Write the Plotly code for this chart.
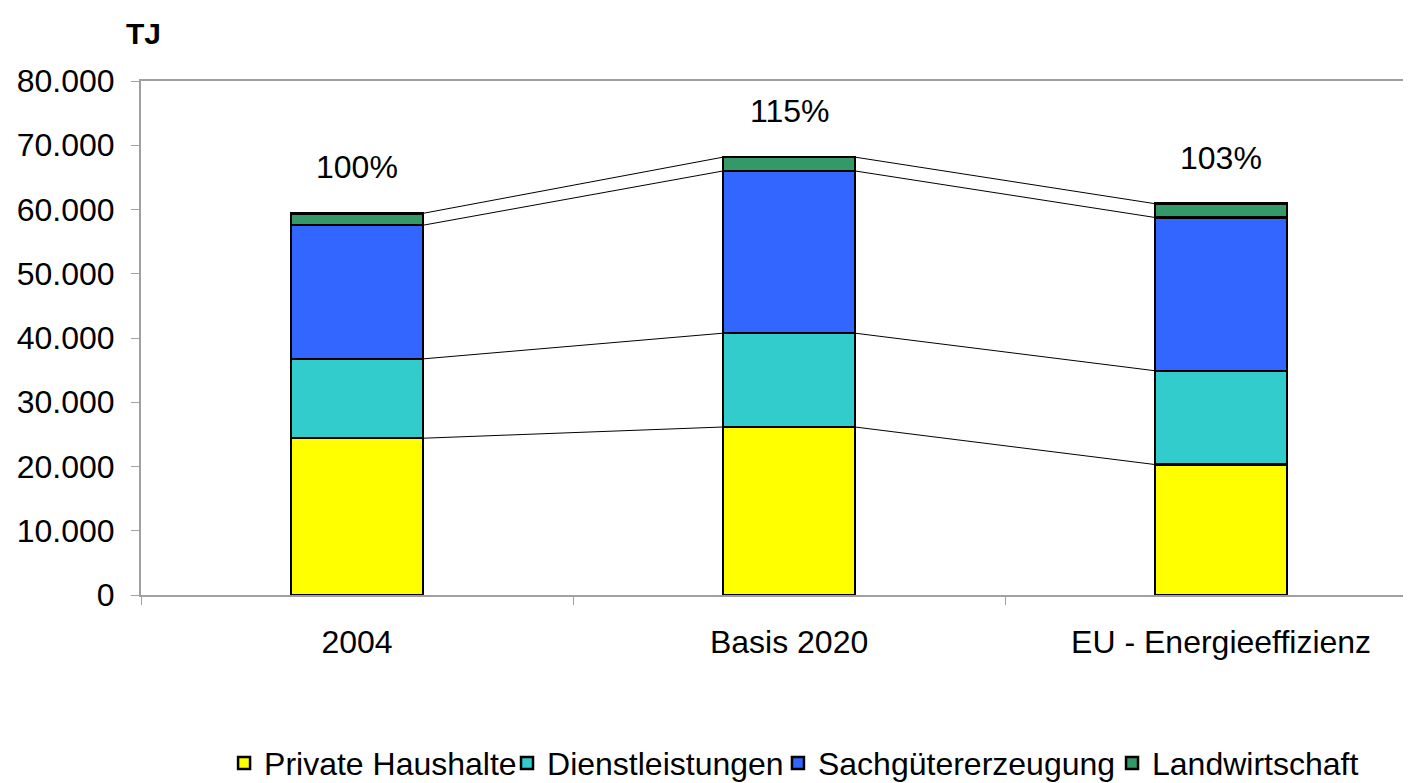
import numpy as np
import plotly.graph_objects as go

# Data (TJ)
categories = ["2004", "Basis 2020", "EU - Energieeffizienz"]
series_names = ["Private Haushalte", "Dienstleistungen", "Sachgütererzeugung", "Landwirtschaft"]
private_haushalte = [24400, 26150, 20300]
dienstleistungen = [12350, 14600, 14600]
sachgueter = [20800, 25250, 23850]
landwirtschaft = [1850, 2150, 2150]
pct_labels = ["100%", "115%", "103%"]

colors = ["#FFFF00", "#33CCCC", "#3366FF", "#339966"]
bar_w = 0.305
font = "Liberation Sans, Arial, sans-serif"
fs = 32

values = [private_haushalte, dienstleistungen, sachgueter, landwirtschaft]
xpos = np.arange(len(categories))

fig = go.Figure()

# one legend per entry so the entries can sit close together like in Excel
legend_ids = ["legend", "legend2", "legend3", "legend4"]
legend_x = [0.065, 0.2864, 0.4984, 0.7598]

for name, vals, col, lg in zip(series_names, values, colors, legend_ids):
    fig.add_trace(go.Bar(
        x=xpos, y=vals, name=name, width=bar_w, legend=lg,
        marker=dict(color=col, line=dict(color="black", width=2.5)),
    ))

# series lines connecting the stack levels
cum = np.cumsum(np.array(values), axis=0)
for level in cum:
    lx, ly = [], []
    for i in range(len(categories) - 1):
        lx += [xpos[i] + bar_w / 2, xpos[i + 1] - bar_w / 2, None]
        ly += [level[i], level[i + 1], None]
    fig.add_trace(go.Scatter(x=lx, y=ly, mode="lines",
                             line=dict(color="black", width=1),
                             showlegend=False, hoverinfo="skip"))

totals = cum[-1]
for i, t in enumerate(totals):
    fig.add_annotation(x=xpos[i], y=t, text=pct_labels[i], showarrow=False,
                       yshift=46, font=dict(size=fs, color="black", family=font))

fig.add_annotation(x=0, y=1, xref="paper", yref="paper", text="<b>TJ</b>",
                   showarrow=False, xanchor="right", yanchor="middle",
                   xshift=22, yshift=48,
                   font=dict(size=30, color="black", family=font))

legend_style = dict(orientation="h", y=-0.327, xanchor="left", yanchor="middle",
                    font=dict(size=fs, family=font, color="black"),
                    itemclick=False, bgcolor="rgba(0,0,0,0)")

fig.update_layout(
    barmode="stack",
    width=1411, height=783,
    margin=dict(l=133, r=0, t=73, b=190),
    plot_bgcolor="white", paper_bgcolor="white",
    separators=",.",
    font=dict(family=font, size=fs, color="black"),
    legend=dict(x=legend_x[0], **legend_style),
    legend2=dict(x=legend_x[1], **legend_style),
    legend3=dict(x=legend_x[2], **legend_style),
    legend4=dict(x=legend_x[3], **legend_style),
    xaxis=dict(
        range=[-0.5, 2.458], tickvals=list(xpos), ticktext=categories,
        ticks="", showline=True, linecolor="#A0A0A0", linewidth=2, mirror=True,
        showgrid=False, zeroline=False, ticklabelstandoff=18,
        minor=dict(tickmode="array", tickvals=[-0.5, 0.5, 1.5, 2.5], ticks="outside",
                   ticklen=8, tickwidth=1, tickcolor="#A0A0A0", showgrid=False),
    ),
    yaxis=dict(
        range=[0, 80000], dtick=10000, tickformat=",d",
        ticks="outside", ticklen=8, tickwidth=1, tickcolor="#A0A0A0",
        showline=True, linecolor="#A0A0A0", linewidth=2,
        showgrid=False, zeroline=False, ticklabelstandoff=10,
    ),
)

fig.write_html("out.html")
